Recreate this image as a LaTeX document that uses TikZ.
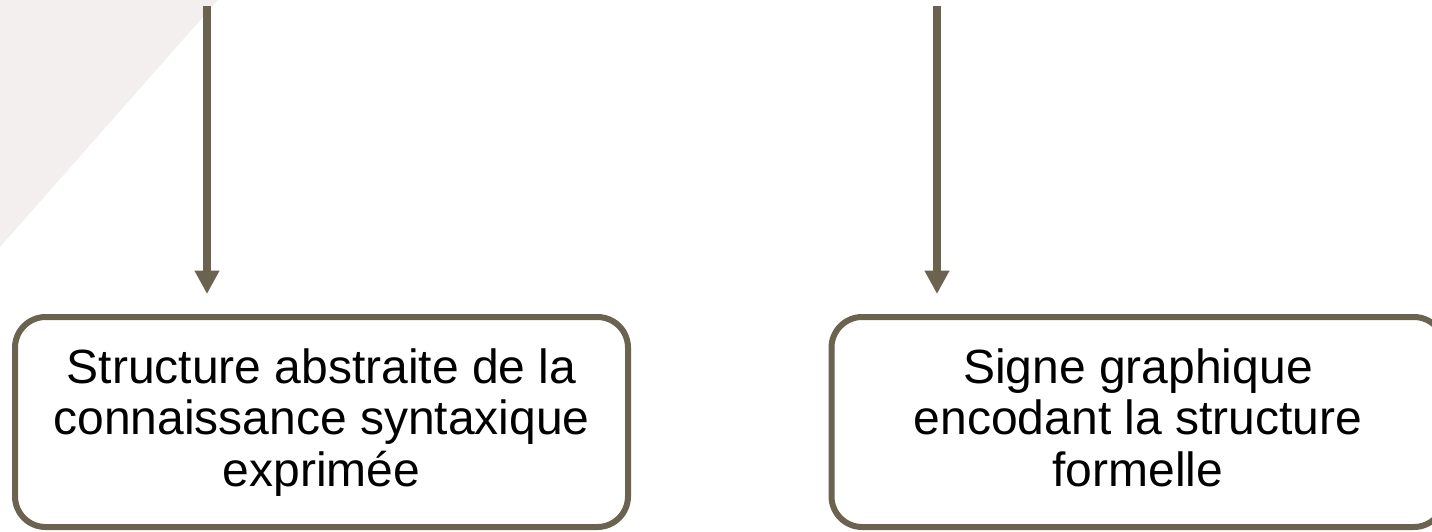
\documentclass[tikz,border=0pt]{standalone}
\usepackage{fontspec}
\setmainfont{Liberation Sans}
\usetikzlibrary{arrows.meta}
\definecolor{edgec}{HTML}{6B634F}
\definecolor{bgtri}{HTML}{F2EFEE}
\newcommand{\firstheight}{\rule{0pt}{31pt}}
\tikzset{
  box/.style={draw=edgec, line width=4.5pt, rounded corners=23pt, fill=white,
    minimum width=459.75pt, minimum height=157.5pt, inner sep=0pt,
    align=center, font=\fontsize{36pt}{38.5pt}\selectfont},
  arr/.style={draw=edgec, line width=6pt,
    -{Triangle[width=17.5pt, length=17.5pt]}, shorten >=15pt},
}
\begin{document}
\begin{tikzpicture}[x=0.75pt, y=-0.75pt]
\useasboundingbox (0,0) rectangle (1432,532);
\clip (0,0) rectangle (1432,532);
\fill[bgtri] (0,0) -- (218,0) -- (0,247) -- cycle;
\node[box] (b1) at (321.5,422) {\firstheight Structure abstraite de la\\connaissance syntaxique\\exprimée\strut};
\node[box] (b2) at (1138,422) {\firstheight Signe graphique\\encodant la structure\\formelle\strut};
\coordinate (s1) at (207,6);
\coordinate (s2) at (937,6);
\draw[arr] (s1) -- (s1 |- b1.north);
\draw[arr] (s2) -- (s2 |- b2.north);
\end{tikzpicture}
\end{document}
